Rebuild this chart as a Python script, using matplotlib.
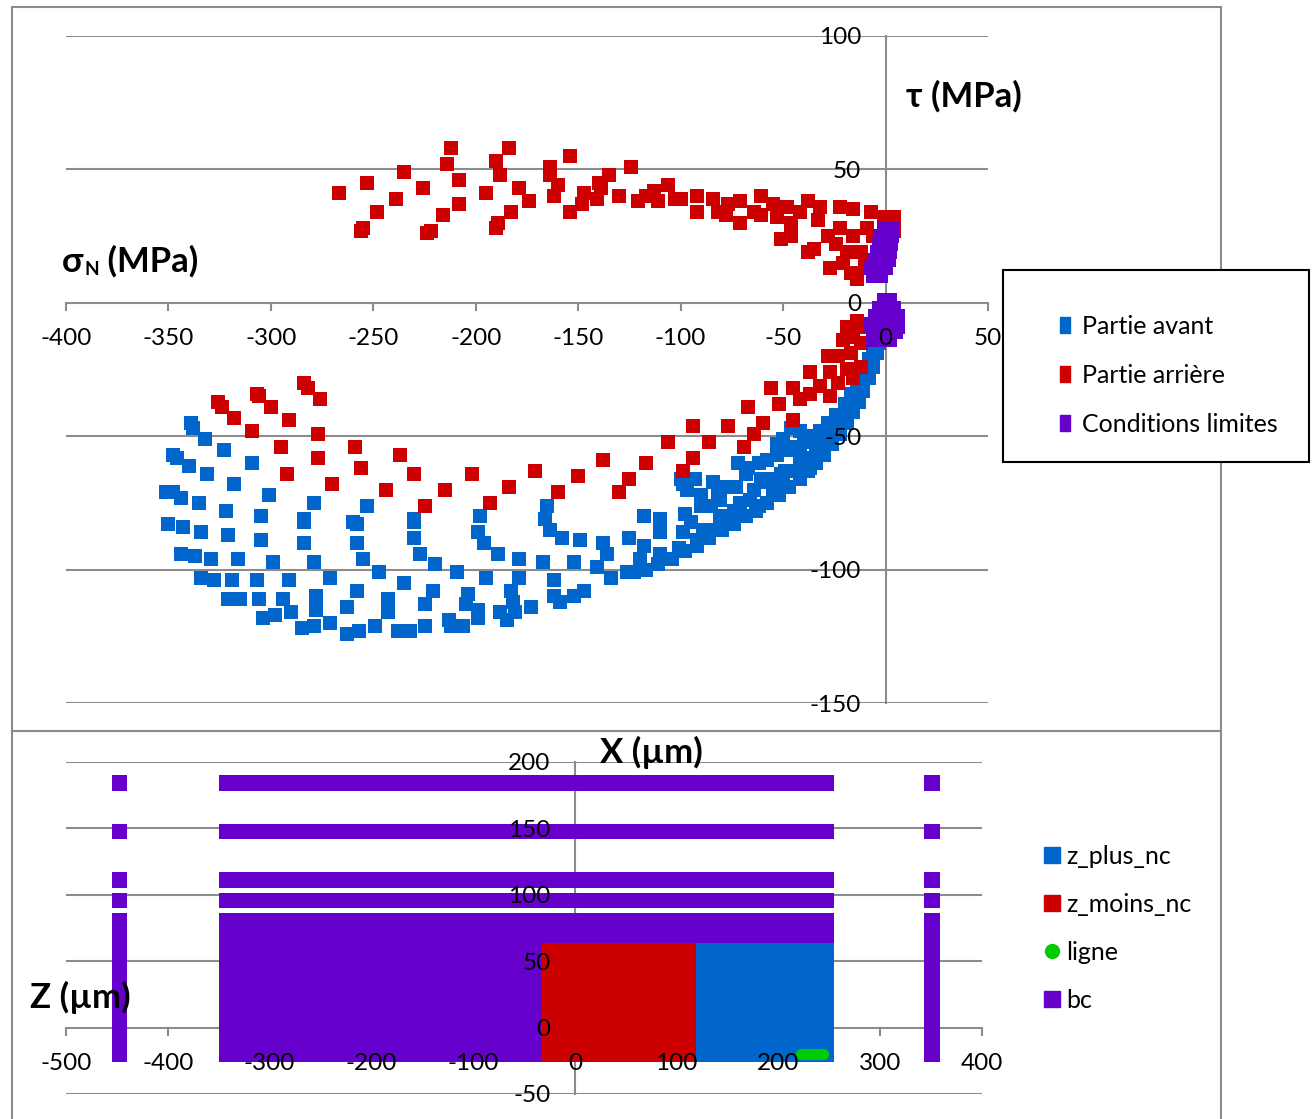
import matplotlib
matplotlib.use("Agg")
import matplotlib.pyplot as plt
from matplotlib.lines import Line2D
from matplotlib.patches import Rectangle

plt.rcParams['font.family'] = ['Lato', 'DejaVu Sans']
plt.rcParams['axes.unicode_minus'] = False

BLUE = '#0066CC'
RED = '#CC0000'
PURPLE = '#6600CC'
GREEN = '#00CC00'
GRID = '#8C8C8C'

# ---- top chart: tau vs sigma_N (MPa) ----
avant_sigma = [
    -339, -338, -332, -323, -309, -348, -346, -340, -331, -318, -301, -351, -348, -344, -335, -322,
    -305, -279, -284, -253, -260, -230, -198, -350, -343, -334, -321, -305, -284, -284, -258, -258,
    -230, -230, -199, -196, -189, -344, -337, -329, -316, -299, -279, -255, -227, -220, -179, -334,
    -328, -319, -307, -291, -271, -247, -235, -209, -195, -321, -315, -306, -294, -278, -258, -243,
    -221, -204, -183, -304, -298, -290, -278, -263, -243, -225, -199, -205, -188, -285, -279, -271,
    -263, -257, -249, -238, -232, -225, -213, -212, -206, -199, -185,
    -165, -166, -164, -158, -149, -167, -152, -138, -136, -141, -134, -126, -125, -118, -120, -123,
    -118, -110, -110, -110, -101, -99, -98, -92, -95, -89, -85, -99, -97, -90, -82, -85, -81, -76,
    -74, -73, -71, -66, -62, -64, -58, -55, -51, -48, -45, -42, -179, -182, -173, -162, -162, -159,
    -152, -147, -181,
    0, -1, -3, -4, -6, -8, -11, -13, -16, -19, -22, -26, -30, -34, -38, -42, -47, -52, -58, -63,
    -68, -74, -80, -86, -92, -98, -104, -111, -117,
    -3, -5, -8, -11, -14, -17, -20, -24, -28, -32, -36, -40, -44, -48, -53, -58, -62, -67,
    -46, -42, -50, -53, -72, -68, -61, -100, -93, -84, -78, -90, -81, -56, -49, -42, -34, -29, -37,
    -2, -4, -6, -8, -10, -12, -15, -18, -21, -24, -27, -31, -34, -38, -42, -46, -50, -55,
]
avant_tau = [
    -45, -47, -51, -55, -60, -57, -58, -61, -64, -68, -72, -71, -71, -73, -75, -78,
    -80, -75, -81, -76, -82, -81, -80, -83, -84, -86, -87, -89, -82, -90, -83, -90,
    -82, -88, -86, -90, -94, -94, -95, -96, -96, -97, -97, -96, -94, -98, -96, -103,
    -104, -104, -104, -104, -103, -101, -105, -101, -103, -111, -111, -111, -111, -110, -108, -111,
    -108, -109, -108, -118, -117, -116, -115, -114, -116, -113, -115, -113, -116, -122, -121, -120,
    -124, -123, -121, -123, -123, -121, -119, -121, -121, -118, -119,
    -76, -81, -85, -88, -89, -97, -97, -90, -94, -99, -103, -101, -88, -91, -96, -101,
    -80, -81, -86, -94, -92, -86, -79, -89, -82, -85, -85, -68, -70, -72, -71, -76, -80, -82,
    -78, -69, -75, -74, -76, -70, -67, -71, -64, -69, -63, -60, -103, -112, -114, -104, -110, -112,
    -110, -108, -116,
    -6, -10, -15, -19, -24, -28, -33, -37, -41, -45, -49, -53, -57, -60, -63, -66, -69, -72, -75, -78,
    -80, -83, -85, -88, -91, -93, -96, -98, -100,
    -10, -16, -21, -25, -30, -34, -38, -42, -45, -48, -50, -52, -54, -55, -57, -59, -60, -62,
    -47, -48, -51, -53, -60, -64, -66, -66, -66, -67, -69, -76, -74, -66, -63, -57, -53, -51, -62,
    -8, -13, -18, -22, -27, -31, -35, -39, -43, -47, -50, -53, -56, -58, -61, -63, -65, -67,
]

arriere_sigma = [
    -267, -253, -255, -256, -248, -235, -239, -226, -216, -222, -224, -212, -214, -208, -208, -195,
    -190, -188, -184, -179, -183, -189, -190, -174, -164, -164, -160, -162, -154, -147, -148, -154,
    -140, -135, -141, -139, -130, -124, -121, -117, -113, -106, -111, -103,
    -100, -92, -84, -77, -71, -61, -55, -48, -38, -32, -22, -16, -7, -1, 3, -92, -82, -71, -64, -53,
    -51, -46, -38, -42, -33, -35, -27, -28, -22, -19, -17, -14, -16, -12, -9, -6, 4, 2, 4,
    -61, -78, -46, -24, -21, -10, -4,
    -19, -14, -21, -16, -23, -28, -17, -12, -12, -37, -27, -19, -16, -12, -23, -27, -56, -45, -52,
    -42, -37, -32, -45, -67, -60, -64, -69, -77, -94, -86, -106, -94, -99, -117, -125, -138, -150,
    -171, -160, -130, -184, -193, -202, -215, -225, -230, -237, -244, -256, -259, -270, -277, -277,
    -292, -295, -309, -291, -284, -282, -276, -307, -306, -300, -326, -324, -318,
]
arriere_tau = [
    41, 45, 28, 27, 34, 49, 39, 43, 33, 27, 26, 58, 52, 46, 37, 41,
    53, 48, 58, 43, 34, 30, 28, 38, 51, 48, 44, 40, 55, 41, 37, 34,
    45, 48, 39, 43, 40, 51, 38, 40, 42, 44, 38, 39,
    39, 40, 39, 37, 38, 40, 37, 36, 38, 36, 36, 35, 34, 32, 31, 34, 34, 30, 34, 32,
    24, 25, 19, 34, 31, 20, 13, 25, 28, 19, 11, 9, 25, 19, 28, 25, 27, 21, 32,
    33, 33, 30, 22, 15, 14, 10,
    -9, -7, -14, -13, -20, -20, -19, -15, -9, -26, -26, -25, -28, -24, -30, -35, -32, -32, -38,
    -36, -34, -31, -44, -39, -45, -49, -54, -46, -46, -52, -52, -58, -63, -60, -66, -59, -65,
    -63, -71, -71, -69, -75, -64, -70, -76, -64, -57, -70, -62, -54, -68, -58, -49,
    -64, -54, -48, -44, -30, -32, -36, -34, -35, -39, -37, -39, -43,
]

limites_sigma = [
    -6, -2, -7, -3, 0, -5, -1, 1.5, -4, 0, 2, -3, 0, 2.5, -2, 1, 3, -1, 2, 3,
    -1, 2, -3, 1, 4, -5, -1, 3, 6, -7, -3, 1, 5, 6, -6, -2, 2, 5, -6, -2, 2,
]
limites_tau = [
    10, 10, 13, 13, 13, 16, 16, 16, 19, 19, 19, 22, 22, 22, 25, 25, 25, 28, 28, 28,
    1, 1, -2, -2, -2, -5, -5, -5, -5, -8, -8, -8, -8, -9, -11, -11, -11, -11, -14, -14, -14,
]

top_xticks = [-400, -350, -300, -250, -200, -150, -100, -50, 0, 50]
top_yticks = [-150, -100, -50, 0, 50, 100]

# ---- bottom chart: mesh regions X-Z (um) ----
bc_xmin = [-350] * 5 + [-455] * 5 + [343] * 5
bc_xmax = [255] * 5 + [-440] * 5 + [359] * 5
bc_zmin = [178, 142, 105, 90, -26] * 3
bc_zmax = [190, 153, 117, 101, 86] * 3

moins_xmin, moins_xmax, moins_zmin, moins_zmax = -33, 119, -26, 64
plus_xmin, plus_xmax, plus_zmin, plus_zmax = 119, 255, -26, 64

ligne_x = [222, 226, 230, 234, 238, 242, 244]
ligne_z = [-20, -20, -20, -20, -20, -20, -20]

bot_xticks = [-500, -400, -300, -200, -100, 0, 100, 200, 300, 400]
bot_yticks = [-50, 0, 50, 100, 150, 200]

W, H = 1314, 1119
TICK_FS = 17.5


def fx(px):
    return px / W


def fy(py):
    return 1 - py / H


def make_axes(fig, rect, xlim, ylim, xticks, yticks):
    # data axes: spines, ticks and grid under the markers
    ax = fig.add_axes(rect)
    ax.set_xlim(xlim)
    ax.set_ylim(ylim)
    ax.set_facecolor('none')
    ax.set_axisbelow(True)
    for side in ('top', 'right'):
        ax.spines[side].set_visible(False)
    for side in ('left', 'bottom'):
        ax.spines[side].set_position(('data', 0))
        ax.spines[side].set_color(GRID)
        ax.spines[side].set_linewidth(1.5)
        ax.spines[side].set_zorder(0.6)
    ax.set_xticks(xticks)
    ax.set_yticks(yticks)
    ax.tick_params(axis='x', direction='out', length=6, width=1.5, color=GRID, labelbottom=False)
    ax.tick_params(axis='y', length=0, labelleft=False)
    for t in yticks:
        if t != 0:
            ax.axhline(t, color=GRID, lw=1.5, zorder=0.5)

    # label axes on top, so tick labels sit over the markers like Excel
    lab = fig.add_axes(rect)
    lab.set_xlim(xlim)
    lab.set_ylim(ylim)
    lab.patch.set_visible(False)
    for side in ('top', 'right', 'left', 'bottom'):
        lab.spines[side].set_visible(False)
    lab.spines['left'].set_position(('data', 0))
    lab.spines['bottom'].set_position(('data', 0))
    lab.set_xticks(xticks)
    lab.set_yticks(yticks)
    lab.set_xticklabels([str(t) for t in xticks])
    lab.set_yticklabels([str(t) for t in yticks])
    lab.tick_params(axis='x', length=0, labelsize=TICK_FS, pad=18)
    lab.tick_params(axis='y', length=0, labelsize=TICK_FS, pad=17.5)
    return ax


def sub_title(fig, ax, x_px, base_px, main, sub, rest, size):
    t1 = fig.text(fx(x_px), fy(base_px), main, fontsize=size, fontweight='bold',
                  va='baseline', ha='left')
    t2 = ax.annotate(sub, xy=(1, fy(base_px + 3)), xycoords=(t1, 'figure fraction'),
                     xytext=(1, 0), textcoords='offset points', fontsize=size * 0.55,
                     fontweight='bold', va='baseline', ha='left', annotation_clip=False)
    ax.annotate(rest, xy=(1, fy(base_px)), xycoords=(t2, 'figure fraction'),
                fontsize=size, fontweight='bold', va='baseline', ha='left',
                annotation_clip=False)


fig = plt.figure(figsize=(W / 100, H / 100), dpi=100)

# chart borders
fig.add_artist(Rectangle((fx(12), fy(731)), fx(1221) - fx(12), fy(7) - fy(731),
                         transform=fig.transFigure, fill=False, edgecolor=GRID, lw=1.5))
fig.add_artist(Rectangle((fx(12), -0.05), fx(1221) - fx(12), fy(731) + 0.05,
                         transform=fig.transFigure, fill=False, edgecolor=GRID, lw=1.5))

# top chart
ax1 = make_axes(fig, [fx(66), fy(703), fx(988) - fx(66), fy(36) - fy(703)],
                (-400, 50), (-150, 100), top_xticks, top_yticks)
ms = 115
ax1.scatter(avant_sigma, avant_tau, s=ms, marker='s', color=BLUE, linewidths=0, zorder=1.1)
ax1.scatter(arriere_sigma, arriere_tau, s=ms, marker='s', color=RED, linewidths=0, zorder=1.2)
ax1.scatter(limites_sigma, limites_tau, s=ms, marker='s', color=PURPLE, linewidths=0, zorder=1.3)

fig.text(fx(906), fy(96), "τ (MPa)", fontsize=25, fontweight='bold', va='center', ha='left')
sub_title(fig, ax1, 62, 272, "σ", "N", " (MPa)", 25)

# top legend with frame
fig.add_artist(Rectangle((fx(1003), fy(462)), fx(1309) - fx(1003), fy(270) - fy(462),
                         transform=fig.transFigure, facecolor='white', edgecolor='black',
                         lw=1.5, zorder=5))
rect_marker = [(-0.3, -0.5), (0.3, -0.5), (0.3, 0.5), (-0.3, 0.5), (-0.3, -0.5)]
top_handles = [Line2D([], [], ls='none', marker=rect_marker, markersize=12, color=c)
               for c in (BLUE, RED, PURPLE)]
leg1 = fig.legend(top_handles, ["Partie avant", "Partie arrière", "Conditions limites"],
                  loc='upper left', bbox_to_anchor=(fx(1055), fy(315)), frameon=False,
                  fontsize=18, handlelength=0.8, handletextpad=0.28, labelspacing=1.04,
                  borderpad=0, borderaxespad=0)
leg1.set_zorder(6)

# bottom chart
ax2 = make_axes(fig, [fx(66), fy(1094), fx(982) - fx(66), fy(762) - fy(1094)],
                (-500, 400), (-50, 200), bot_xticks, bot_yticks)
bc_w = [b - a for a, b in zip(bc_xmin, bc_xmax)]
bc_h = [b - a for a, b in zip(bc_zmin, bc_zmax)]
ax2.bar(bc_xmin, bc_h, width=bc_w, bottom=bc_zmin, align='edge', color=PURPLE, linewidth=0, zorder=1.1)
ax2.bar([moins_xmin], [moins_zmax - moins_zmin], width=[moins_xmax - moins_xmin],
        bottom=[moins_zmin], align='edge', color=RED, linewidth=0, zorder=1.2)
ax2.bar([plus_xmin], [plus_zmax - plus_zmin], width=[plus_xmax - plus_xmin],
        bottom=[plus_zmin], align='edge', color=BLUE, linewidth=0, zorder=1.2)
ax2.scatter(ligne_x, ligne_z, s=64, marker='o', color=GREEN, linewidths=0, zorder=1.3)

fig.text(fx(600), fy(752), "X (µm)", fontsize=25, fontweight='bold', va='center', ha='left')
fig.text(fx(30), fy(997), "Z (µm)", fontsize=25, fontweight='bold', va='center', ha='left')

bot_handles = [
    Line2D([], [], ls='none', marker='s', markersize=11, color=BLUE),
    Line2D([], [], ls='none', marker='s', markersize=11, color=RED),
    Line2D([], [], ls='none', marker='o', markersize=10, color=GREEN),
    Line2D([], [], ls='none', marker='s', markersize=11, color=PURPLE),
]
fig.legend(bot_handles, ["z_plus_nc", "z_moins_nc", "ligne", "bc"],
           loc='upper left', bbox_to_anchor=(fx(1042), fy(845)), frameon=False,
           fontsize=18, handlelength=0.8, handletextpad=0.16, labelspacing=1.0,
           borderpad=0, borderaxespad=0)

fig.savefig("out.png", dpi=100)
